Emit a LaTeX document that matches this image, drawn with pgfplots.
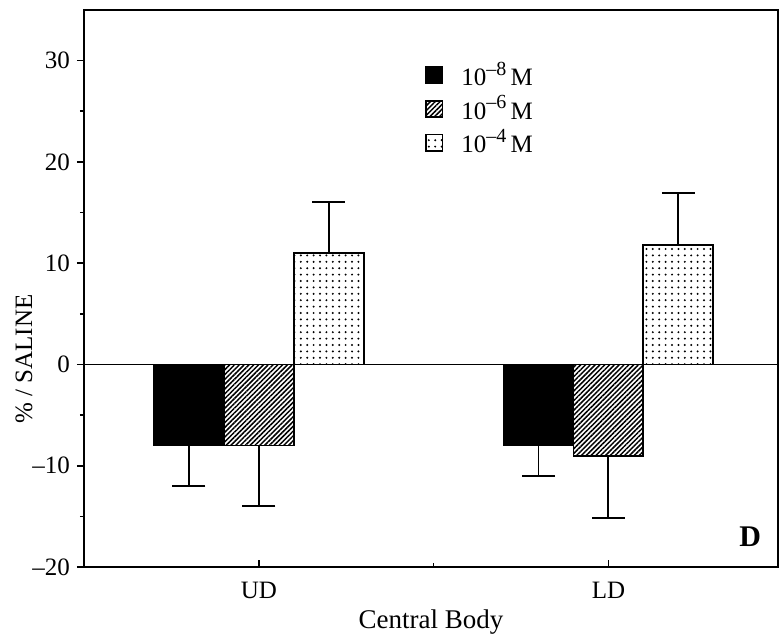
\documentclass[border=0pt]{standalone}
\usepackage{pgfplots}
\pgfplotsset{compat=1.18}
\usepackage{fontspec}
\setmainfont{Liberation Serif}
\usetikzlibrary{patterns.meta}

\newcommand{\conc}[1]{10\raisebox{0.42em}{\fontsize{10}{10}\selectfont\textendash#1}\,M}

\pgfplotsset{
  sqlegend/.style={legend image code/.code={
    \draw[##1, line width=0.9pt] (0pt,-4.1pt) rectangle (8.2pt,4.1pt);}},
  errstyle/.style={
    error bars/y explicit,
    error bars/error bar style={line width=0.95pt, black},
    error bars/error mark options={line width=0.95pt, black, mark size=8.25pt, rotate=90}},
}

\begin{document}
\begin{tikzpicture}
\path[use as bounding box] (-42pt,-33pt) rectangle (348pt,283.5pt);
\begin{axis}[
  scale only axis, width=347pt, height=278.5pt,
  at={(0,0)}, anchor=south west,
  xmin=-0.5, xmax=1.485, ymin=-20, ymax=35,
  axis line style={line width=1.1pt},
  xtick={0,1}, xticklabels={UD,LD},
  minor xtick={0.5},
  ytick={-20,-10,0,10,20,30},
  yticklabels={\textendash20,\textendash10,0,10,20,30},
  minor ytick={-15,-5,5,15,25},
  xtick pos=bottom, ytick pos=left,
  xtick align=inside, ytick align=outside,
  major tick length=3.5pt, minor tick length=2pt,
  tick style={black, line width=0.8pt},
  tick label style={font=\fontsize{12.5}{14}\selectfont},
  xticklabel style={yshift=-4pt},
  xlabel={Central Body},
  xlabel style={font=\fontsize{13.5}{15}\selectfont, at={(axis description cs:0.5,0)}, anchor=north, yshift=-18pt},
  ylabel={\% / SALINE},
  ylabel style={font=\fontsize{12.5}{14}\selectfont, at={(axis description cs:-0.0865,0.373)}, anchor=center, rotate=0},
  legend style={draw=none, fill=none, at={(rel axis cs:0.491,0.915)}, anchor=north west,
    font=\fontsize{12.5}{15}\selectfont, row sep=-0.5pt, column sep=7pt, inner sep=0pt,
    nodes={inner sep=2pt}},
  legend cell align=left,
  clip=false,
]
% baseline at zero
\addplot[black, line width=0.6pt, forget plot] coordinates {(-0.5,0) (1.485,0)};

% 10^-8 M (left bar of each group)
\addplot[ybar, bar width=0.2, bar shift=0, fill=black, draw=black, line width=0.9pt,
  sqlegend, errstyle, error bars/y dir=minus]
  coordinates {(-0.2,-8) -= (0,4) (0.8,-8) -= (0,3)};
\addlegendentry{\conc{8}}

% 10^-6 M (middle bar)
\addplot[ybar, bar width=0.2, bar shift=0, draw=black, line width=0.9pt,
  pattern={Lines[angle=45,distance=1.7pt,line width=0.75pt]},
  sqlegend, errstyle, error bars/y dir=minus]
  coordinates {(0,-8) -= (0,6) (1,-9) -= (0,6.2)};
\addlegendentry{\conc{6}}

% 10^-4 M (right bar)
\addplot[ybar, bar width=0.2, bar shift=0, draw=black, line width=0.9pt,
  pattern={Dots[distance=3.2pt,radius=0.55pt]},
  sqlegend, errstyle, error bars/y dir=plus]
  coordinates {(0.2,11) += (0,5) (1.2,11.8) += (0,5.1)};
\addlegendentry{\conc{4}}

\node[font=\fontsize{15}{18}\selectfont\bfseries] at (rel axis cs:0.96,0.054) {D};
\end{axis}
\end{tikzpicture}
\end{document}
